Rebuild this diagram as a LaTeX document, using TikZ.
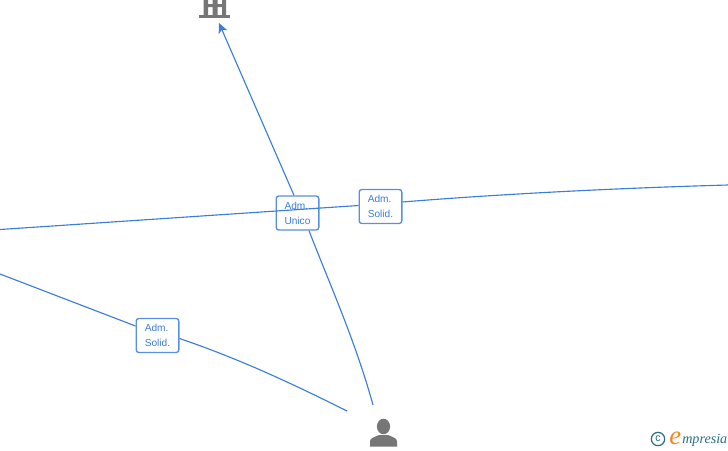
\documentclass[tikz,border=0pt]{standalone}
\usepackage{fontspec}
\setmainfont{Liberation Sans}
\newfontfamily\logofont{Liberation Serif}
\usetikzlibrary{arrows.meta}
\definecolor{linkblue}{RGB}{58,125,219}
\definecolor{icongray}{RGB}{118,118,118}
\definecolor{logoteal}{RGB}{40,110,135}
\definecolor{logoorange}{RGB}{240,135,30}
\tikzset{
  rolebox/.style={draw=linkblue!85,fill=white,rounded corners=2pt,line width=1pt,text=linkblue,
    font=\fontsize{7.6}{11.2}\selectfont,align=left,minimum width=32pt,minimum height=25.5pt,inner sep=0pt},
  link/.style={draw=linkblue,line width=0.85pt},
}

\begin{document}
\begin{tikzpicture}[x=0.75pt,y=0.75pt,yscale=-1,xscale=1]
\useasboundingbox (0,0) rectangle (728,450);

% Free ends
\coordinate (leftTop) at (0,229.5);
\coordinate (leftLow) at (0,274);
\coordinate (rightEnd) at (728,185);
\coordinate (firmTip) at (219,23);
\coordinate (personEnd) at (373,405);
\coordinate (personSide) at (347,411);

% Text Node
\node [rolebox] (unico) at (297.5,213) {Adm.\\Unico};
% Text Node
\node [rolebox] (solidTop) at (380.5,206.5) {Adm.\\Solid.};
% Text Node
\node [rolebox] (solidLow) at (157.5,335.5) {Adm.\\Solid.};

%Straight Lines
\draw [link] (leftTop) -- (solidTop.west |- 0,205.5);
\draw [link] (solidTop.east |- 0,202) .. controls (500,194) and (620,188) .. (rightEnd);
\draw [link,-{Stealth[length=7.5pt,width=7pt,inset=2pt]}] (unico.north -| 294,0) -- (firmTip);
\draw [link] (personEnd) .. controls (355,340) and (330,285) .. (unico.south -| 309,0);
\draw [link] (leftLow) -- (solidLow.west |- 0,326);
\draw [link] (solidLow.east |- 0,338.5) .. controls (240,359) and (295,385) .. (personSide);

%Shape: Building
\fill [icongray] (199,14.5) rectangle (230,17.5);
\fill [icongray,even odd rule] (203.5,-1) rectangle (226,15)
  (208,-1) rectangle (212.5,4) (217.5,-1) rectangle (222,4)
  (208,7) rectangle (212.5,15) (217.5,7) rectangle (222,15);

%Shape: Person
\fill [icongray] (383.5,426.5) ellipse (6.6 and 7.8);
\fill [icongray] (370,446.5) -- (370,441.5) .. controls (370,438.5) and (373,437.5) .. (379,435)
  -- (388,435) .. controls (394,437.5) and (397,438.5) .. (397,441.5) -- (397,446.5) -- cycle;

% Text Node
\node [circle,draw=logoteal,line width=0.9pt,text=logoteal,inner sep=0pt,minimum size=10pt,font=\fontsize{8}{8}\selectfont] (copyMark) at (658,439) {c};
% Text Node
\node [anchor=base west,inner sep=0pt,font=\logofont\itshape\fontsize{10.6}{10.6}\selectfont,text=logoteal] (logoText) at (682,443) {mpresia};
% Text Node
\node [anchor=base east,inner sep=0pt,font=\logofont\itshape\fontsize{20}{20}\selectfont,text=logoorange] (logoE) at (681.5,444) {e};
\end{tikzpicture}
\end{document}
